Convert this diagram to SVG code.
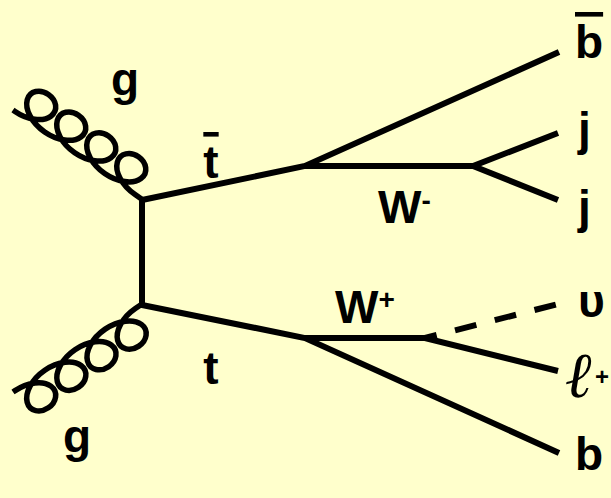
<svg xmlns="http://www.w3.org/2000/svg" width="611" height="498" viewBox="0 0 611 498">
<style>
.ln{fill:none;stroke:#000;stroke-width:6;stroke-linecap:butt;stroke-linejoin:miter}
.gl{fill:none;stroke:#000;stroke-width:5.5;stroke-linecap:butt;stroke-linejoin:round}
.dash{stroke-dasharray:22 19;stroke-dashoffset:10}
.lb{font-family:"Liberation Sans",Arial,sans-serif;font-weight:bold;font-size:46px;fill:#000}
.sup{font-size:28px}
.ell{font-family:"DejaVu Serif",serif;font-style:italic;font-weight:bold}
</style>
<rect x="0" y="0" width="611" height="498" fill="#FFFFCC"/>
<g id="connectors">
<path class="ln" d="M559,52 L305,166 L142,200 L142,305 L305,338 L559,453"/>
<path class="ln" d="M305,166 L473,166 L558,133"/>
<path class="ln" d="M473,166 L558,200"/>
<path class="ln" d="M305,338 L425,338 L558,371"/>
<path class="ln dash" d="M425,338 L558,304"/>
<path id="gluon-top" class="gl" transform="translate(13,110) rotate(34.7)" d="M0,0 h2 c7.67,0 15.31,-1.78 21.18,-4.83 c5.87,-3.05 9.93,-7.35 11.45,-11.67 c1.52,-4.32 0.51,-8.61 -2.32,-11.67 c-2.83,-3.05 -7.42,-4.83 -12.05,-4.83 c-4.63,0 -9.23,1.78 -12.05,4.83 c-2.83,3.05 -3.84,7.35 -2.32,11.67 c1.52,4.32 5.58,8.61 11.45,11.67 c5.87,3.05 13.51,4.83 21.18,4.83 c7.67,0 15.31,-1.78 21.18,-4.83 c5.87,-3.05 9.93,-7.35 11.45,-11.67 c1.52,-4.32 0.51,-8.61 -2.32,-11.67 c-2.83,-3.05 -7.42,-4.83 -12.05,-4.83 c-4.63,0 -9.23,1.78 -12.05,4.83 c-2.83,3.05 -3.84,7.35 -2.32,11.67 c1.52,4.32 5.58,8.61 11.45,11.67 c5.87,3.05 13.51,4.83 21.18,4.83 c7.67,0 15.31,-1.78 21.18,-4.83 c5.87,-3.05 9.93,-7.35 11.45,-11.67 c1.52,-4.32 0.51,-8.61 -2.32,-11.67 c-2.83,-3.05 -7.42,-4.83 -12.05,-4.83 c-4.63,0 -9.23,1.78 -12.05,4.83 c-2.83,3.05 -3.84,7.35 -2.32,11.67 c1.52,4.32 5.58,8.61 11.45,11.67 c5.87,3.05 13.51,4.83 21.18,4.83 c7.67,0 15.31,-1.78 21.18,-4.83 c5.87,-3.05 9.93,-7.35 11.45,-11.67 c1.52,-4.32 0.51,-8.61 -2.32,-11.67 c-2.83,-3.05 -7.42,-4.83 -12.05,-4.83 c-4.63,0 -9.23,1.78 -12.05,4.83 c-2.83,3.05 -3.84,7.35 -2.32,11.67 c1.52,4.32 5.58,8.61 11.45,11.67 c5.87,3.05 13.51,4.83 21.18,4.83 L158,0"/>
<path id="gluon-bottom" class="gl" transform="translate(13,392) rotate(-34.3) scale(1,-1)" d="M0,0 h2 c7.67,0 15.31,-1.78 21.18,-4.83 c5.87,-3.05 9.93,-7.35 11.45,-11.67 c1.52,-4.32 0.51,-8.61 -2.32,-11.67 c-2.83,-3.05 -7.42,-4.83 -12.05,-4.83 c-4.63,0 -9.23,1.78 -12.05,4.83 c-2.83,3.05 -3.84,7.35 -2.32,11.67 c1.52,4.32 5.58,8.61 11.45,11.67 c5.87,3.05 13.51,4.83 21.18,4.83 c7.67,0 15.31,-1.78 21.18,-4.83 c5.87,-3.05 9.93,-7.35 11.45,-11.67 c1.52,-4.32 0.51,-8.61 -2.32,-11.67 c-2.83,-3.05 -7.42,-4.83 -12.05,-4.83 c-4.63,0 -9.23,1.78 -12.05,4.83 c-2.83,3.05 -3.84,7.35 -2.32,11.67 c1.52,4.32 5.58,8.61 11.45,11.67 c5.87,3.05 13.51,4.83 21.18,4.83 c7.67,0 15.31,-1.78 21.18,-4.83 c5.87,-3.05 9.93,-7.35 11.45,-11.67 c1.52,-4.32 0.51,-8.61 -2.32,-11.67 c-2.83,-3.05 -7.42,-4.83 -12.05,-4.83 c-4.63,0 -9.23,1.78 -12.05,4.83 c-2.83,3.05 -3.84,7.35 -2.32,11.67 c1.52,4.32 5.58,8.61 11.45,11.67 c5.87,3.05 13.51,4.83 21.18,4.83 c7.67,0 15.31,-1.78 21.18,-4.83 c5.87,-3.05 9.93,-7.35 11.45,-11.67 c1.52,-4.32 0.51,-8.61 -2.32,-11.67 c-2.83,-3.05 -7.42,-4.83 -12.05,-4.83 c-4.63,0 -9.23,1.78 -12.05,4.83 c-2.83,3.05 -3.84,7.35 -2.32,11.67 c1.52,4.32 5.58,8.61 11.45,11.67 c5.87,3.05 13.51,4.83 21.18,4.83 L156.2,0"/>
</g>
<g id="label-g-top"><text class="lb" x="125" y="95" text-anchor="middle">g</text></g>
<g id="label-g-bottom"><text class="lb" x="77" y="452" text-anchor="middle">g</text></g>
<g id="label-tbar"><text class="lb" x="211" y="178" text-anchor="middle" text-decoration="overline">t</text></g>
<g id="label-t"><text class="lb" x="211" y="384" text-anchor="middle">t</text></g>
<g id="label-Wminus"><text class="lb" x="378" y="223">W<tspan class="sup" dy="-13">-</tspan></text></g>
<g id="label-Wplus"><text class="lb" x="335" y="323">W<tspan class="sup" dy="-14">+</tspan></text></g>
<g id="label-bbar"><text class="lb" x="575" y="58" text-decoration="overline">b</text></g>
<g id="label-j1"><text class="lb" x="578" y="145">j</text></g>
<g id="label-j2"><text class="lb" x="578" y="223">j</text></g>
<g id="label-nu"><text class="lb" x="578" y="317">υ</text></g>
<g id="label-lplus"><text class="lb" x="566" y="397"><tspan class="ell" font-size="64">ℓ</tspan><tspan x="595" y="385" font-size="24">+</tspan></text></g>
<g id="label-b"><text class="lb" x="575" y="470">b</text></g>
</svg>
